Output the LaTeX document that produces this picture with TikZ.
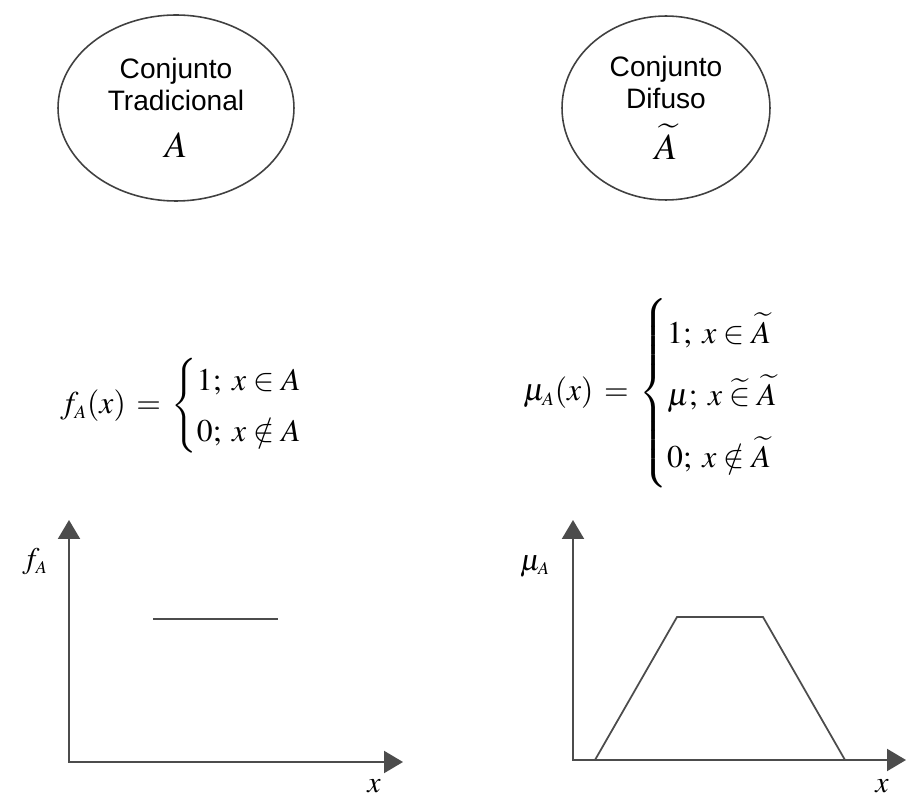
\documentclass[tikz,border=0pt]{standalone}
\usepackage{amsmath}
\usepackage{mathptmx}
\usepackage{fontspec}
\setmainfont{Liberation Serif}
\setsansfont{Liberation Sans}
\usetikzlibrary{shapes.geometric,arrows.meta,positioning}
\tikzset{
  setellipse/.style={
    ellipse, draw=black!75, line width=0.9pt,
    align=center, font=\sffamily\fontsize{16}{18}\selectfont, inner sep=0pt
  },
  setformula/.style={font=\fontsize{18}{22}\selectfont, inner sep=0pt, anchor=west},
  axisarrow/.style={{Triangle[length=0.38cm,width=0.44cm]}-{Triangle[length=0.38cm,width=0.44cm]},
    line width=1.2pt, draw=black!70},
  mfline/.style={line width=1pt, draw=black!70, line join=miter},
  axislabel/.style={font=\fontsize{17}{22}\selectfont, inner sep=0pt},
}
\begin{document}
\begin{tikzpicture}[x=0.02cm, y=-0.02cm]
  \useasboundingbox (0,0) rectangle (907,800);
  % the two sets
  \node (trad) [setellipse, minimum width=4.72cm, minimum height=3.72cm] at (176,108)
    {Conjunto\\Tradicional\\[9pt]{\fontsize{21}{22}\selectfont$A$}};
  \node (fuzzy) [setellipse, minimum width=4.16cm, minimum height=3.68cm] at (666,108)
    {Conjunto\\Difuso\\[8pt]{\fontsize{21}{22}\selectfont$\widetilde{A}$}};
  % characteristic and membership functions
  \node (fdef) [setformula] at (60,406)
    {\renewcommand\arraystretch{1.3}$f_{\scriptscriptstyle A}(x)\,=\,\left\{\begin{array}{@{}l}1;\;x\in A\\0;\;x\notin A\end{array}\right.$};
  \node (mudef) [setformula] at (523,393)
    {\renewcommand\arraystretch{1.6}$\mu_{\scriptscriptstyle A}(x)\,=\,\left\{\begin{array}{@{}l}1;\;x\in\widetilde{A}\\ \mu;\;x\mathrel{\widetilde{\in}}\widetilde{A}\\0;\;x\notin\widetilde{A}\end{array}\right.$};
  % crisp plot
  \coordinate (lo) at (69,762);
  \coordinate (ltop) at (69,520);
  \coordinate (lend) at (403,762);
  \draw[axisarrow] (ltop) -- (lo) -- (lend);
  \coordinate (s1) at (153,619);
  \coordinate (s2) at (278,619);
  \draw[mfline] (s1) -- (s2);
  \node (flab) [axislabel] at (35,562) {$f_{\scriptscriptstyle A}$};
  \node (xl) [axislabel] at (374,786) {$x$};
  % fuzzy plot
  \coordinate (ro) at (573,760);
  \coordinate (rtop) at (573,520);
  \coordinate (rend) at (906,760);
  \draw[axisarrow] (rtop) -- (ro) -- (rend);
  \coordinate (t1) at (595,760);
  \coordinate (t2) at (677,617);
  \coordinate (t3) at (763,617);
  \coordinate (t4) at (845,760);
  \draw[mfline] (t1) -- (t2) -- (t3) -- (t4);
  \node (mulab) [axislabel] at (535,566) {$\mu_{\scriptscriptstyle A}$};
  \node (xr) [axislabel] at (882,786) {$x$};
\end{tikzpicture}
\end{document}
